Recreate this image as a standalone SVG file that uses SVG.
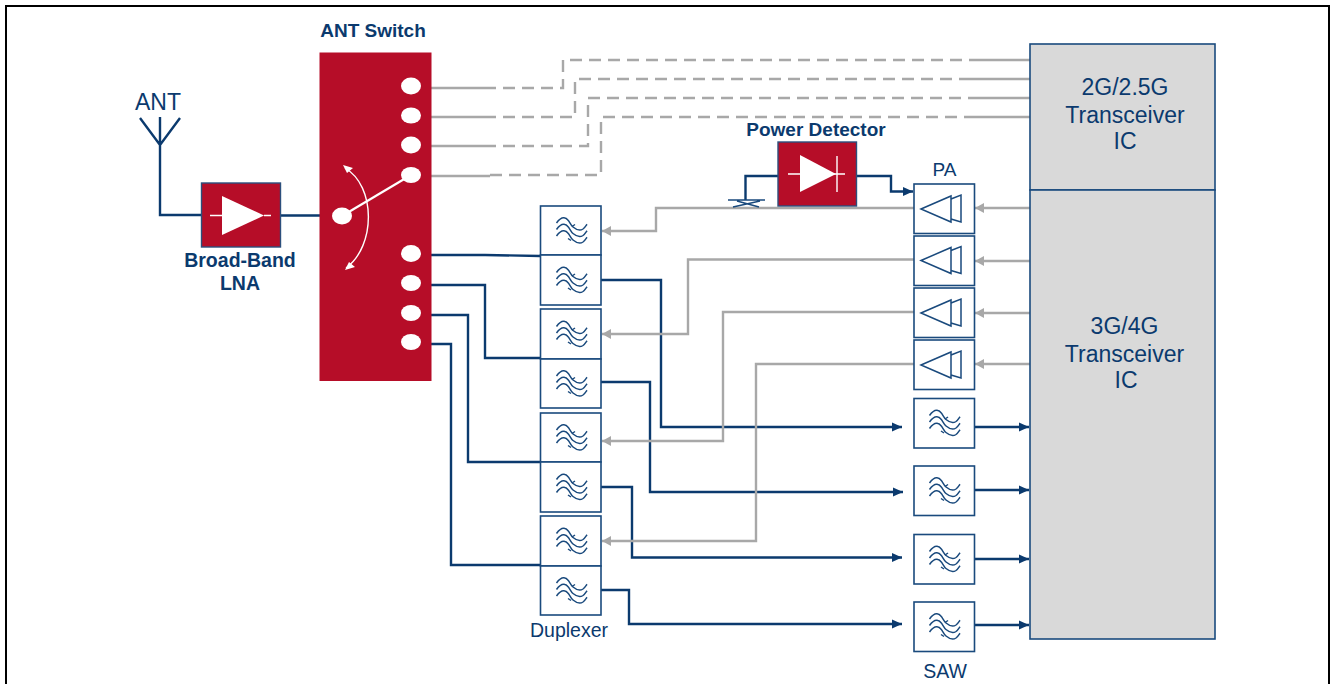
<svg xmlns="http://www.w3.org/2000/svg" xmlns:xlink="http://www.w3.org/1999/xlink" width="1332" height="684" viewBox="0 0 1332 684">
<style>
.t{font-family:"Liberation Sans",Arial,sans-serif;fill:#0b3a6e;text-anchor:middle}
.b{font-weight:bold;font-size:19px}
.l{font-size:23px}
.box{fill:#fff;stroke:#1a4a7d;stroke-width:1.6}
.red{fill:#b60d28;stroke:#2c4f7c;stroke-width:1.4}
.n{fill:none;stroke:#0b3a6e;stroke-width:2.4}
.g{fill:none;stroke:#a8a8a8;stroke-width:2.4}
.d{fill:none;stroke:#a8a8a8;stroke-width:2.4;stroke-dasharray:12 7}
.w{fill:none;stroke:#fff;stroke-width:1.4}
.ic{fill:#d9d9d9;stroke:#1a4a7d;stroke-width:1.6}
.dot{fill:#fff}
.wave{fill:none;stroke:#1a4a7d;stroke-width:1.5}
.pa{fill:none;stroke:#1a4a7d;stroke-width:1.5}
</style>
<defs>
<marker id="an" markerUnits="userSpaceOnUse" markerWidth="11" markerHeight="11" refX="10" refY="5.500" orient="auto"><path d="M0,1 L10,5.500 L0,10 Z" fill="#0b3a6e"/></marker>
<marker id="ag" markerUnits="userSpaceOnUse" markerWidth="10" markerHeight="12" refX="9" refY="6" orient="auto"><path d="M0,1 L9,6 L0,11 Z" fill="#a8a8a8"/></marker>
<path id="w1" class="wave" d="M-14.500,-7.500 C-12,-11 -9,-13.500 -6,-12.500 C-2,-11.500 -1,-6 2,-3.500 C5,-1 9,0.500 12,-1.500 C14,-3 15,-5 16,-6.300"/>
<g id="filt">
<use xlink:href="#w1"/><use xlink:href="#w1" y="6.500"/><use xlink:href="#w1" y="13"/>
<path class="wave" d="M1,-4 L4,-6 M-3,8 L0,10"/>
</g>
<g id="amp">
<path class="pa" d="M-23,0 L7,-13 V13 Z"/>
<path class="pa" d="M7,-10 L17,-14 V13 L7,10"/>
</g>
</defs>
<rect width="1332" height="684" fill="#fff"/>
<path d="M6,684 V6 H1329 V684" fill="none" stroke="#000" stroke-width="2"/>

<g id="connectors">
<path class="n" d="M160,117 V215 H202 M140,118 L160,145 L180,118 M280,215.500 H320"/>
<path class="n" d="M431,255 H485 L540,256"/>
<path class="n" d="M431,285 H485 V358 H540"/>
<path class="n" d="M431,315 H468 V462 H540"/>
<path class="n" d="M431,344 H451 V565 H540"/>
<path class="n" marker-end="url(#an)" d="M601,280 H661 V427 H902"/>
<path class="n" marker-end="url(#an)" d="M601,382 H650 V492 H903"/>
<path class="n" marker-end="url(#an)" d="M601,487 H632 V557.500 H902"/>
<path class="n" marker-end="url(#an)" d="M601,590 H629 V624 H902"/>
<path class="n" marker-end="url(#an)" d="M975,427 H1029"/>
<path class="n" marker-end="url(#an)" d="M975,490 H1029"/>
<path class="n" marker-end="url(#an)" d="M975,559 H1029"/>
<path class="n" marker-end="url(#an)" d="M975,625 H1029"/>
<path class="g" d="M431,88 H484 M431,117 H484 M431,146 H484 M431,176 H490"/>
<path class="d" d="M484,88 H563 V60 H970"/>
<path class="d" d="M484,117 H575 V79 H970"/>
<path class="d" d="M484,146 H588 V98 H970"/>
<path class="d" d="M490,175 H601 V117 H970"/>
<path class="g" d="M970,60 H1030 M970,79 H1030 M970,98 H1030 M970,117 H1030"/>
<path class="g" marker-end="url(#ag)" d="M914,208 H656 V231 H602"/>
<path class="g" marker-end="url(#ag)" d="M914,259.500 H688 V334 H602"/>
<path class="g" marker-end="url(#ag)" d="M914,312 H723 V441 H602"/>
<path class="g" marker-end="url(#ag)" d="M914,364 H756 V541 H602"/>
<path class="g" marker-end="url(#ag)" d="M1030,208 H975"/>
<path class="g" marker-end="url(#ag)" d="M1030,261 H975"/>
<path class="g" marker-end="url(#ag)" d="M1030,313 H975"/>
<path class="g" marker-end="url(#ag)" d="M1030,364 H975"/>
<path class="n" d="M778,176 H745.500 V200"/>
<path class="n" marker-end="url(#an)" d="M856,176 H891 V191.500 H913"/>
<path fill="none" stroke="#1a4a7d" stroke-width="1.500" d="M728,200 H765 M737,201 L759,207 M760,201 L733,207"/>
</g>

<g id="ic-2g"><rect class="ic" x="1030" y="44" width="185" height="146"/>
<text class="t l" x="1125" y="95">2G/2.5G</text><text class="t l" x="1125" y="123">Transceiver</text><text class="t l" x="1125" y="149">IC</text></g>
<g id="ic-3g"><rect class="ic" x="1030" y="190" width="185" height="449"/>
<text class="t l" x="1124.500" y="334">3G/4G</text><text class="t l" x="1124.500" y="362">Transceiver</text><text class="t l" x="1126" y="388">IC</text></g>

<g id="ant"><text class="t" font-size="23" x="158" y="110">ANT</text></g>

<g id="lna"><rect class="red" x="201.500" y="183" width="79" height="64"/>
<path d="M222,196 V235 L264,215.500 Z" fill="#fff"/><path class="w" d="M210,215.500 H222 M264,215.500 H271"/>
<text class="t b" style="font-size:19.500px" x="240" y="267">Broad-Band</text><text class="t b" style="font-size:19.500px" x="240" y="290">LNA</text></g>

<g id="ant-switch"><rect x="319.500" y="52.500" width="112" height="328.500" fill="#b60d28"/>
<text class="t b" x="373" y="37">ANT Switch</text>
<ellipse class="dot" cx="411" cy="86" rx="10" ry="8.500"/><ellipse class="dot" cx="411" cy="115.500" rx="10" ry="8"/><ellipse class="dot" cx="411" cy="145" rx="10" ry="8.500"/><ellipse class="dot" cx="411" cy="175" rx="10" ry="8"/>
<ellipse class="dot" cx="411" cy="253.500" rx="10" ry="8.500"/><ellipse class="dot" cx="411" cy="283" rx="10" ry="8"/><ellipse class="dot" cx="411" cy="313" rx="10" ry="8"/><ellipse class="dot" cx="411" cy="342" rx="10" ry="8"/>
<ellipse class="dot" cx="342" cy="216" rx="10" ry="8.500"/>
<path d="M342,216 L411,175" stroke="#fff" stroke-width="2.200" fill="none"/>
<path class="w" d="M345,168 C376,186 376,246 346,268"/>
<path d="M343,165 L353,168 L347,173 Z M345,270 L349,262 L355,267 Z" fill="#fff"/></g>

<g id="power-detector"><rect class="red" x="778" y="142" width="78.500" height="64"/>
<path d="M800,155 V192 L836,174 Z" fill="#fff"/><path class="w" d="M788,174 H845 M837,156 V192"/>
<text class="t b" x="816" y="136">Power Detector</text></g>

<g id="duplexers">
<rect class="box" x="540.500" y="206" width="60.500" height="49"/><use xlink:href="#filt" x="571" y="230.500"/>
<rect class="box" x="540.500" y="255" width="60.500" height="50"/><use xlink:href="#filt" x="571" y="280"/>
<rect class="box" x="540.500" y="309" width="60.500" height="50"/><use xlink:href="#filt" x="571" y="334"/>
<rect class="box" x="540.500" y="359" width="60.500" height="49"/><use xlink:href="#filt" x="571" y="383.500"/>
<rect class="box" x="540.500" y="413" width="60.500" height="49"/><use xlink:href="#filt" x="571" y="437.500"/>
<rect class="box" x="540.500" y="462" width="60.500" height="50"/><use xlink:href="#filt" x="571" y="487"/>
<rect class="box" x="540.500" y="516" width="60.500" height="50"/><use xlink:href="#filt" x="571" y="541"/>
<rect class="box" x="540.500" y="566" width="60.500" height="49"/><use xlink:href="#filt" x="571" y="590.500"/>
<text class="t" font-size="19.500" x="569" y="637">Duplexer</text></g>

<g id="pa">
<text class="t" font-size="19" x="944.500" y="176">PA</text>
<rect class="box" x="914" y="184" width="60.500" height="49.500"/><use xlink:href="#amp" x="944" y="209"/>
<rect class="box" x="914" y="236" width="60.500" height="49.500"/><use xlink:href="#amp" x="944" y="260.500"/>
<rect class="box" x="914" y="288" width="60.500" height="49.500"/><use xlink:href="#amp" x="944" y="313"/>
<rect class="box" x="914" y="340" width="60.500" height="49.500"/><use xlink:href="#amp" x="944" y="365"/>
</g>

<g id="saw">
<rect class="box" x="914" y="398.500" width="60.500" height="49.500"/><use xlink:href="#filt" x="944" y="423"/>
<rect class="box" x="914" y="466" width="60.500" height="49.500"/><use xlink:href="#filt" x="944" y="490.500"/>
<rect class="box" x="914" y="534.500" width="60.500" height="49.500"/><use xlink:href="#filt" x="944" y="559"/>
<rect class="box" x="914" y="602" width="60.500" height="49.500"/><use xlink:href="#filt" x="944" y="626.500"/>
<text class="t" font-size="19.500" x="945" y="678">SAW</text></g>
</svg>
